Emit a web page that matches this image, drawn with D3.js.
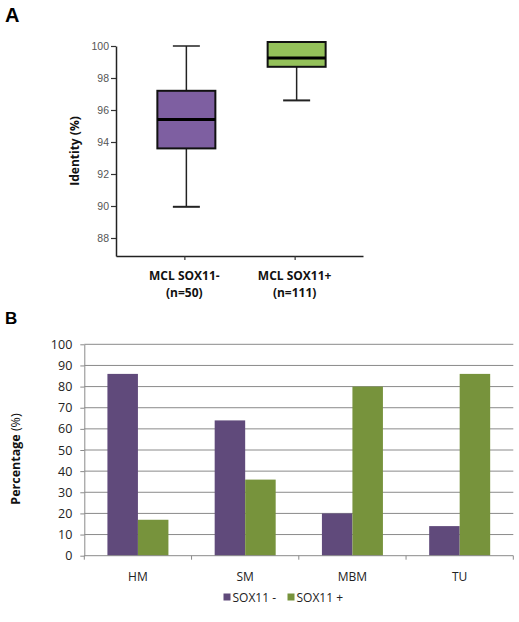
<!DOCTYPE html>
<html><head><meta charset="utf-8">
<script src="https://cdn.jsdelivr.net/npm/d3@7"></script>
<style>body{margin:0;background:#fff}svg{display:block}</style>
</head><body>
<script>
// Panel A data (box plot)
const boxGroups = ["MCL SOX11-", "MCL SOX11+"];
const boxSubLabels = ["(n=50)", "(n=111)"];
const boxMins = [89.95, 96.6];
const boxQ1s = [93.6, 98.7];
const boxMedians = [95.4, 99.25];
const boxQ3s = [97.2, 100.25];
const boxMaxs = [100, 100];
const boxColors = ["#7e5fa1", "#94c15a"];
const identityTicks = [88, 90, 92, 94, 96, 98, 100];

// Panel B data (grouped bars)
const categories = ["HM", "SM", "MBM", "TU"];
const seriesNames = ["SOX11 -", "SOX11 +"];
const sox11Neg = [86, 64, 20, 14];
const sox11Pos = [17, 36, 80, 86];
const barColors = ["#604a7b", "#77933c"];
const pctTicks = [0, 10, 20, 30, 40, 50, 60, 70, 80, 90, 100];

const svg = d3.select("body").append("svg").attr("width", 519).attr("height", 622);

// ---------- Panel A ----------
svg.append("text").attr("x", 5).attr("y", 22).attr("font-family", "Liberation Sans, Arial, sans-serif")
  .attr("font-weight", "bold").attr("font-size", 20).text("A");

const yA = d3.scaleLinear().domain([86.875, 100]).range([256, 46]);
const xA = d3.scalePoint().domain(boxGroups).range([116, 363]).padding(0.62);

const gAy = svg.append("g").attr("transform", "translate(116,0)")
  .call(d3.axisLeft(yA).tickValues(identityTicks).tickSize(5).tickSizeOuter(0).tickPadding(2));
gAy.select(".domain").attr("stroke", "#222").attr("stroke-width", 1.5);
gAy.selectAll(".tick line").attr("stroke", "#333").attr("stroke-width", 1.2);
gAy.selectAll(".tick text").attr("font-family", "Liberation Sans, Arial, sans-serif").attr("font-size", 10.5).attr("fill", "#555");

const gAx = svg.append("g").attr("transform", "translate(0,256)")
  .call(d3.axisBottom(xA).tickSize(4).tickSizeOuter(0).tickFormat(""));
gAx.select(".domain").attr("stroke", "#222").attr("stroke-width", 1.5);
gAx.selectAll(".tick line").attr("stroke", "#333").attr("stroke-width", 1.2);

boxGroups.forEach((g, i) => {
  const cx = xA(g);
  svg.append("text").attr("x", cx).attr("y", 280).attr("text-anchor", "middle")
    .attr("font-family", "Open Sans, sans-serif").attr("font-weight", "bold").attr("font-size", 12).attr("fill", "#111").text(g);
  svg.append("text").attr("x", cx).attr("y", 297).attr("text-anchor", "middle")
    .attr("font-family", "Open Sans, sans-serif").attr("font-weight", "bold").attr("font-size", 12).attr("fill", "#111").text(boxSubLabels[i]);
});

svg.append("text").attr("transform", "translate(79,151) rotate(-90)").attr("text-anchor", "middle")
  .attr("font-family", "Open Sans, sans-serif").attr("font-weight", "bold").attr("font-size", 12).attr("fill", "#111").text("Identity (%)");

const boxW = 58, capW = 27;
boxGroups.forEach((g, i) => {
  const cx = xA(g) + 2;
  const gb = svg.append("g");
  gb.append("line").attr("x1", cx).attr("x2", cx).attr("y1", yA(boxMaxs[i])).attr("y2", yA(boxMins[i]))
    .attr("stroke", "#222").attr("stroke-width", 1.5);
  gb.append("line").attr("x1", cx - capW / 2).attr("x2", cx + capW / 2).attr("y1", yA(boxMaxs[i])).attr("y2", yA(boxMaxs[i]))
    .attr("stroke", "#222").attr("stroke-width", 1.5);
  gb.append("line").attr("x1", cx - capW / 2).attr("x2", cx + capW / 2).attr("y1", yA(boxMins[i])).attr("y2", yA(boxMins[i]))
    .attr("stroke", "#222").attr("stroke-width", 2);
  gb.append("rect").attr("x", cx - boxW / 2).attr("width", boxW)
    .attr("y", yA(boxQ3s[i])).attr("height", yA(boxQ1s[i]) - yA(boxQ3s[i]))
    .attr("fill", boxColors[i]).attr("stroke", "#111").attr("stroke-width", 2);
  gb.append("line").attr("x1", cx - boxW / 2).attr("x2", cx + boxW / 2).attr("y1", yA(boxMedians[i])).attr("y2", yA(boxMedians[i]))
    .attr("stroke", "#000").attr("stroke-width", 3);
});

// ---------- Panel B ----------
svg.append("text").attr("x", 5).attr("y", 324).attr("font-family", "Liberation Sans, Arial, sans-serif")
  .attr("font-weight", "bold").attr("font-size", 17).text("B");

const yB = d3.scaleLinear().domain([0, 100]).range([555.7, 344.3]);
const xB = d3.scaleBand().domain(categories).range([84.3, 513.3]);
const xInner = d3.scaleBand().domain(seriesNames).range([0, 61]);
const barOffset = (xB.bandwidth() - 61) / 2;

// gridlines
svg.append("g").selectAll("line").data(pctTicks.filter(t => t > 0)).join("line")
  .attr("x1", 84.3).attr("x2", 513.3).attr("y1", d => yB(d)).attr("y2", d => yB(d))
  .attr("stroke", "#8a8a8a").attr("stroke-width", 1);

const gBy = svg.append("g").attr("transform", "translate(84.3,0)")
  .call(d3.axisLeft(yB).tickValues(pctTicks).tickSize(4).tickSizeOuter(0).tickPadding(8));
gBy.select(".domain").attr("stroke", "#8a8a8a");
gBy.selectAll(".tick line").attr("stroke", "#8a8a8a");
gBy.selectAll(".tick text").attr("font-family", "Open Sans, sans-serif").attr("font-size", 12.5).attr("fill", "#222");

const data = categories.map((c, i) => ({ c, vals: [sox11Neg[i], sox11Pos[i]] }));
const groups = svg.append("g").selectAll("g").data(data).join("g")
  .attr("transform", d => `translate(${xB(d.c) + barOffset},0)`);
groups.selectAll("rect").data(d => d.vals.map((v, k) => ({ v, s: seriesNames[k], k }))).join("rect")
  .attr("x", d => xInner(d.s)).attr("width", xInner.bandwidth())
  .attr("y", d => yB(d.v)).attr("height", d => yB(0) - yB(d.v))
  .attr("fill", d => barColors[d.k]);

// x axis with boundary ticks
const gBx = svg.append("g").attr("transform", "translate(0,555.7)");
gBx.append("line").attr("x1", 84.3).attr("x2", 513.3).attr("stroke", "#8a8a8a");
gBx.selectAll("line.b").data(categories.concat(["end"])).join("line").attr("class", "b")
  .attr("x1", (d, i) => 84.3 + i * xB.step()).attr("x2", (d, i) => 84.3 + i * xB.step())
  .attr("y1", 0).attr("y2", 4).attr("stroke", "#8a8a8a");
gBx.selectAll("text").data(categories).join("text")
  .attr("x", d => xB(d) + xB.bandwidth() / 2).attr("y", 25.5).attr("text-anchor", "middle")
  .attr("font-family", "Open Sans, sans-serif").attr("font-size", 12).attr("fill", "#222").text(d => d);

const yl = svg.append("text").attr("transform", "translate(20,459) rotate(-90)").attr("text-anchor", "middle")
  .attr("font-family", "Open Sans, sans-serif").attr("font-size", 12.5).attr("fill", "#111");
yl.append("tspan").attr("font-weight", "bold").text("Percentage ");
yl.append("tspan").text("(%)");

// legend
const legX = [223.5, 287.5];
seriesNames.forEach((s, k) => {
  svg.append("rect").attr("x", legX[k]).attr("y", 593.5).attr("width", 7).attr("height", 7).attr("fill", barColors[k]);
  svg.append("text").attr("x", legX[k] + 9).attr("y", 601.5).attr("font-family", "Open Sans, sans-serif")
    .attr("font-size", 12).attr("fill", "#222").text(s);
});
</script>
</body></html>
